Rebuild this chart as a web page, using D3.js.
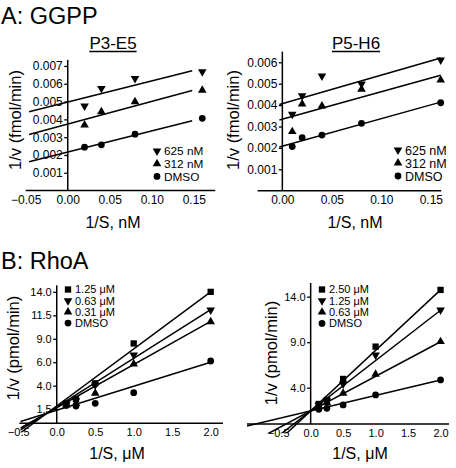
<!DOCTYPE html>
<html><head><meta charset="utf-8">
<script src="https://cdn.jsdelivr.net/npm/d3@7"></script>
<style>
body{margin:0;background:#fff;}
text{font-family:"Liberation Sans",Arial,sans-serif;fill:#000;}
</style></head>
<body><svg id="c" width="456" height="468"></svg>
<script>
// ---------- Panel A1 : P3-E5 (GGPP) ----------
const a1X = [0.02, 0.04, 0.08, 0.16];
const a1S625 = [0.00475, 0.00574, 0.0063, 0.00667];
const a1S312 = [0.00369, 0.00443, 0.00499, 0.00564];
const a1Dmso = [0.00244, 0.00257, 0.00317, 0.00406];
const a1Legend = ["625 nM", "312 nM", "DMSO"];
const a1XTicks = [-0.05, 0.00, 0.05, 0.10, 0.15];
const a1YTicks = [0.001, 0.002, 0.003, 0.004, 0.005, 0.006, 0.007];
const a1FitRange = [-0.046, 0.148];

// ---------- Panel A2 : P5-H6 (GGPP) ----------
const a2X = [0.01, 0.02, 0.04, 0.08, 0.16];
const a2S625 = [0.00357, 0.00444, 0.00536, 0.00499, 0.00611];
const a2S312 = [0.00276, 0.00405, 0.00396, 0.00474, 0.00517];
const a2Dmso = [0.00206, 0.00248, 0.0026, 0.00315, 0.00411];
const a2Legend = ["625 nM", "312 nM", "DMSO"];
const a2XTicks = [0.00, 0.05, 0.10, 0.15];
const a2YTicks = [0.001, 0.002, 0.003, 0.004, 0.005, 0.006];
const a2FitRange = [-0.003, 0.16];

// ---------- Panel B1 : RhoA ----------
const bX = [0.125, 0.25, 0.5, 1.0, 2.0];
const b1S125 = [2.1, 2.58, 4.25, 8.5, 14.0];
const b1S063 = [2.05, 2.4, 4.07, 7.27, 12.07];
const b1S031 = [1.94, 2.1, 3.19, 6.31, 10.82];
const b1Dmso = [1.9, 1.83, 2.12, 3.25, 6.63];
const b1Slopes = [6.08, 5.19, 4.60, 2.56];
const b1Intercepts = [1.84, 1.72, 1.65, 1.38];
const b1Legend = ["1.25 μM", "0.63 μM", "0.31 μM", "DMSO"];
const b1XTicks = [-0.5, 0.0, 0.5, 1.0, 1.5, 2.0];
const b1YTicks = [1.5, 4.0, 6.5, 9.0, 11.5, 14.0];
const b1YTickLabels = ["1.5", "4.0", "6.0", "9.0", "11.5", "14.0"];
const b1FitRange = [-0.47, 2.0];

// ---------- Panel B2 : RhoA ----------
const b2S250 = [2.21, 2.65, 4.96, 8.51, 14.74];
const b2S125 = [2.1, 2.57, 4.41, 7.59, 12.54];
const b2S063 = [1.91, 2.35, 3.38, 5.47, 9.06];
const b2Dmso = [1.62, 1.73, 2.1, 3.2, 4.85];
const b2Slopes = [6.65, 5.53, 3.8, 1.7];
const b2Intercepts = [1.45, 1.45, 1.45, 1.45];
const b2Legend = ["2.50 μM", "1.25 μM", "0.63 μM", "DMSO"];
const b2XTicks = [-0.5, 0.0, 0.5, 1.0, 1.5, 2.0];
const b2YTicks = [4.0, 9.0, 14.0];
const b2YTickLabels = ["4.0", "9.0", "14.0"];
const b2FitRange = [-0.98, 2.0];

const svg = d3.select("#c");

const triDown = {draw(ctx, size){ const s = Math.sqrt(size/ (Math.sqrt(3)/4)); const h = s*Math.sqrt(3)/2;
  ctx.moveTo(-s/2, -h/3); ctx.lineTo(s/2, -h/3); ctx.lineTo(0, 2*h/3); ctx.closePath(); }};
const triUp = {draw(ctx, size){ const s = Math.sqrt(size/ (Math.sqrt(3)/4)); const h = s*Math.sqrt(3)/2;
  ctx.moveTo(-s/2, h/3); ctx.lineTo(s/2, h/3); ctx.lineTo(0, -2*h/3); ctx.closePath(); }};
const SYM = {square: [d3.symbolSquare, 40], down: [triDown, 32], up: [triUp, 32], circle: [d3.symbolCircle, 36]};

function linreg(xs, ys){
  const mx = d3.mean(xs), my = d3.mean(ys);
  let sxy = 0, sxx = 0;
  xs.forEach((x,i)=>{ sxy += (x-mx)*(ys[i]-my); sxx += (x-mx)*(x-mx); });
  const m = sxy/sxx; return {m, b: my - m*mx};
}

let clipId = 0;
function panel(o){
  const g = svg.append("g");
  const x = d3.scaleLinear().domain(o.xDom).range(o.xRange);
  const y = d3.scaleLinear().domain(o.yDom).range(o.yRange);
  // fit lines
  const cid = "clip" + (clipId++);
  g.append("clipPath").attr("id", cid).append("rect")
    .attr("x", x(o.xDom[0])).attr("y", y(o.yDom[1]))
    .attr("width", x(o.xDom[1]) - x(o.xDom[0]))
    .attr("height", y(o.clipYMin) - y(o.yDom[1]));
  const lg = g.append("g").attr("clip-path", `url(#${cid})`);
  o.fits.forEach(f=>{
    lg.append("line")
      .attr("x1", x(o.fitRange[0])).attr("y1", y(f.b + f.m*o.fitRange[0]))
      .attr("x2", x(o.fitRange[1])).attr("y2", y(f.b + f.m*o.fitRange[1]))
      .attr("stroke", "#000").attr("stroke-width", 1.5);
  });
  // axes
  const xAxis = d3.axisBottom(x).tickValues(o.xTicks).tickSize(0).tickPadding(5)
    .tickFormat(o.xFmt);
  const xa = g.append("g").attr("transform", `translate(0,${y(0)})`).call(xAxis);
  const yAxis = d3.axisLeft(y).tickValues(o.yTicks).tickSize(3.5).tickPadding(1.5)
    .tickFormat((d,i)=>o.yLabels ? o.yLabels[i] : o.yFmt(d));
  const ya = g.append("g").attr("transform", `translate(${x(0)},0)`).call(yAxis);
  [xa, ya].forEach(a=>{
    a.select(".domain").remove();
    a.selectAll("text").attr("font-family", "Liberation Sans, Arial, sans-serif")
      .attr("font-size", o.tickFs).attr("fill", "#000");
    a.selectAll("line").attr("stroke", "#000").attr("stroke-width", 1.3);
  });
  g.append("line").attr("x1", x(o.xDom[0])).attr("x2", x(o.xDom[1]))
    .attr("y1", y(0)).attr("y2", y(0)).attr("stroke", "#000").attr("stroke-width", 1.5);
  g.append("line").attr("x1", x(0)).attr("x2", x(0))
    .attr("y1", y(0)).attr("y2", y(o.yDom[1])).attr("stroke", "#000").attr("stroke-width", 1.5);
  // points
  o.series.forEach(s=>{
    const [type, size] = SYM[s.sym];
    g.selectAll(null).data(s.ys).enter().append("path")
      .attr("d", d3.symbol(type, size))
      .attr("transform", (d,i)=>`translate(${x(o.xs[i])},${y(d)})`)
      .attr("fill", "#000");
  });
  // legend
  o.series.forEach((s,i)=>{
    const [type, size] = SYM[s.sym];
    const ly = o.legY + i*o.legDy;
    g.append("path").attr("d", d3.symbol(type, size))
      .attr("transform", `translate(${o.legX},${ly})`).attr("fill", "#000");
    g.append("text").attr("x", o.legX + 7).attr("y", ly).attr("dy", "0.36em")
      .attr("font-size", o.legFs).text(s.label);
  });
  // axis titles
  g.append("text").attr("x", o.xTitlePos[0]).attr("y", o.xTitlePos[1])
    .attr("text-anchor", "middle").attr("font-size", 16).text(o.xTitle);
  g.append("text").attr("transform", `translate(${o.yTitlePos[0]},${o.yTitlePos[1]}) rotate(-90)`)
    .attr("text-anchor", "middle").attr("font-size", 16.5).text(o.yTitle);
  // panel title
  if (o.title){
    const t = g.append("text").attr("x", o.titlePos[0]).attr("y", o.titlePos[1])
      .attr("text-anchor", "middle").attr("font-size", 17).text(o.title);
    const w = t.node().getComputedTextLength();
    g.append("line").attr("x1", o.titlePos[0]-w/2).attr("x2", o.titlePos[0]+w/2)
      .attr("y1", o.titlePos[1]+2.5).attr("y2", o.titlePos[1]+2.5)
      .attr("stroke", "#000").attr("stroke-width", 1.3);
  }
}

// Section headings
svg.append("text").attr("x", 1).attr("y", 24).attr("font-size", 23.5).text("A: GGPP");
svg.append("text").attr("x", 1).attr("y", 269).attr("font-size", 23.5).text("B: RhoA");

const fmtA = d3.format(".3f"), fmtX2 = d3.format(".2f"), fmtX1 = d3.format(".1f");

panel({
  xDom: [-0.05, 0.1755], xRange: [25.7, 215.3],
  yDom: [0, 0.00734], yRange: [190.6, 59.9], clipYMin: 0,
  xs: a1X,
  series: [
    {ys: a1S625, sym: "down", label: a1Legend[0]},
    {ys: a1S312, sym: "up", label: a1Legend[1]},
    {ys: a1Dmso, sym: "circle", label: a1Legend[2]}],
  fits: [linreg(a1X, a1S625), linreg(a1X, a1S312), linreg(a1X, a1Dmso)],
  fitRange: a1FitRange,
  xTicks: a1XTicks, xFmt: fmtX2, yTicks: a1YTicks, yFmt: fmtA, tickFs: 12,
  legX: 157, legY: 151, legDy: 12.7, legFs: 11.8,
  xTitle: "1/S, nM", xTitlePos: [113, 228],
  yTitle: "1/v (fmol/min)", yTitlePos: [21, 120],
  title: "P3-E5", titlePos: [113, 49]
});

panel({
  xDom: [-0.025, 0.1605], xRange: [257.6, 441.2],
  yDom: [0, 0.0065], yRange: [190.7, 51.6], clipYMin: 0,
  xs: a2X,
  series: [
    {ys: a2S625, sym: "down", label: a2Legend[0]},
    {ys: a2S312, sym: "up", label: a2Legend[1]},
    {ys: a2Dmso, sym: "circle", label: a2Legend[2]}],
  fits: [linreg(a2X, a2S625), linreg(a2X, a2S312), linreg(a2X, a2Dmso)],
  fitRange: a2FitRange,
  xTicks: a2XTicks, xFmt: fmtX2, yTicks: a2YTicks, yFmt: fmtA, tickFs: 12,
  legX: 398, legY: 150, legDy: 13, legFs: 12.5,
  xTitle: "1/S, nM", xTitlePos: [355, 228],
  yTitle: "1/v (fmol/min)", yTitlePos: [239, 120],
  title: "P5-H6", titlePos: [356, 49]
});

panel({
  xDom: [-0.485, 2.16], xRange: [19.4, 223],
  yDom: [0, 14.7], yRange: [423.2, 285.3], clipYMin: -1,
  xs: bX,
  series: [
    {ys: b1S125, sym: "square", label: b1Legend[0]},
    {ys: b1S063, sym: "down", label: b1Legend[1]},
    {ys: b1S031, sym: "up", label: b1Legend[2]},
    {ys: b1Dmso, sym: "circle", label: b1Legend[3]}],
  fits: b1Slopes.map((m,i)=>({m, b: b1Intercepts[i]})),
  fitRange: b1FitRange,
  xTicks: b1XTicks, xFmt: fmtX1, yTicks: b1YTicks, yLabels: b1YTickLabels, tickFs: 11,
  legX: 68, legY: 289.5, legDy: 11.2, legFs: 11,
  xTitle: "1/S, μM", xTitlePos: [117, 459],
  yTitle: "1/v (pmol/min)", yTitlePos: [19, 348],
  title: null
});

panel({
  xDom: [-0.98, 2.13], xRange: [247, 449],
  yDom: [0, 15.5], yRange: [424.1, 283], clipYMin: -1,
  xs: bX,
  series: [
    {ys: b2S250, sym: "square", label: b2Legend[0]},
    {ys: b2S125, sym: "down", label: b2Legend[1]},
    {ys: b2S063, sym: "up", label: b2Legend[2]},
    {ys: b2Dmso, sym: "circle", label: b2Legend[3]}],
  fits: b2Slopes.map((m,i)=>({m, b: b2Intercepts[i]})),
  fitRange: b2FitRange,
  xTicks: b2XTicks, xFmt: fmtX1, yTicks: b2YTicks, yLabels: b2YTickLabels, tickFs: 11,
  legX: 322, legY: 289.5, legDy: 11.3, legFs: 11,
  xTitle: "1/S, μM", xTitlePos: [360, 459],
  yTitle: "1/v (pmol/min)", yTitlePos: [277, 353],
  title: null
});
</script></body></html>
